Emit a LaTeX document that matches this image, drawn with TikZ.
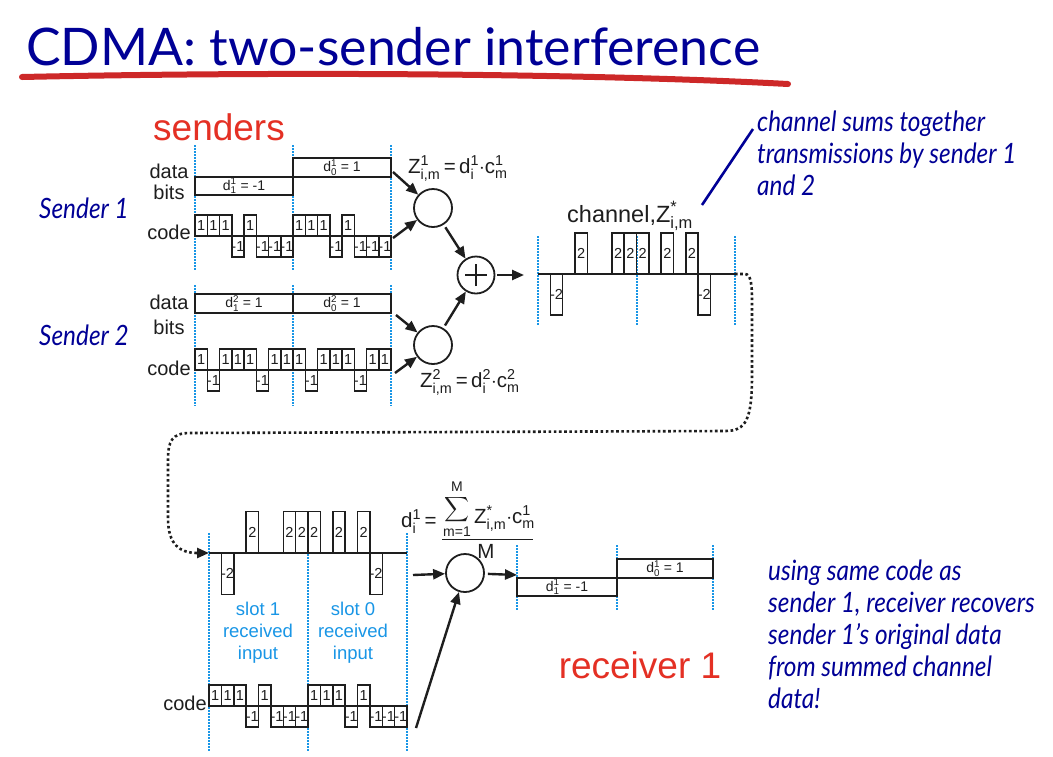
\documentclass[tikz,border=0pt]{standalone}
\usepackage{amsmath}
\usepackage{fontspec}
\setmainfont{Liberation Sans}
\newfontfamily\gillish[FakeStretch=0.87]{Lato}
\newfontfamily\titlefont{Lato}
\usetikzlibrary{arrows.meta}

\definecolor{navy}{RGB}{0,0,150}
\definecolor{brushred}{RGB}{205,40,40}
\definecolor{lblred}{RGB}{228,48,36}
\definecolor{slotblue}{RGB}{25,150,230}
\definecolor{ink}{RGB}{30,30,30}

\newcommand\fs[1]{\fontsize{#1}{#1}\selectfont}
% base letter with stacked super- and subscript in the text font
\newcommand\sx[3]{#1$^{\text{#2}}_{\text{#3}}$}

% chip waveform: x0, baseline y, chip width, unit height, values
\newcommand\wave[5]{%
  \foreach \v [count=\k from 0] in {#5}{%
    \ifnum\v=0\relax\else
      \draw[chip] ({#1+\k*#3},#2) rectangle ({#1+(\k+1)*#3},{#2-\v*#4});
      \node[chiplbl] at ({#1+(\k+0.5)*#3},{#2-0.5*\v*#4}) {\v};
    \fi}}

\begin{document}
\begin{tikzpicture}[x=1pt,y=-1pt,
  chip/.style={draw=ink, line width=1.5pt},
  chiplbl/.style={font=\fs{14.5}, inner sep=0, text=ink},
  bitlbl/.style={font=\fs{14}, inner sep=0, text=ink},
  axislbl/.style={font=\fs{20}, inner sep=0, text=ink},
  slot/.style={draw=slotblue, line width=1.7pt, dash pattern=on 1.5pt off 1.5pt},
  slotlbl/.style={font=\fontsize{18.5}{22}\selectfont, text=slotblue, align=center, inner sep=0},
  formula/.style={font=\fs{20.5}, inner sep=0, text=ink},
  circ/.style={circle, draw=ink, line width=1.8pt, minimum size=38pt, inner sep=0},
  arr/.style={draw=ink, line width=2.4pt, -{Triangle[length=12pt,width=10pt]}},
  note/.style={font=\gillish\itshape\fs{28}, text=navy, inner sep=0, anchor=base west},
  redlbl/.style={font=\fs{37}, text=lblred, inner sep=0},
  dotpath/.style={draw=ink, line width=2.6pt, dash pattern=on 2.6pt off 2.6pt}
]
\fill[white] (0,0) rectangle (1053,756);
\useasboundingbox (0,0) rectangle (1053,756);

% title and brush underline
\node[anchor=base west, inner sep=0, text=navy, font=\titlefont\fs{51.8}] (title) at (26,65) {CDMA: two-sender interference};
\draw[brushred, line width=6pt, line cap=round] (22,77) .. controls (300,71) and (600,74) .. (788,84);

% labels
\node[redlbl] (senders) at (219,127) {senders};
\node[note, anchor=center] (snd1) at (84,208) {Sender 1};
\node[note, anchor=center] (snd2) at (84,335) {Sender 2};

% ---------------- sender 1
\foreach \x in {195,293,391} \draw[slot] (\x,145) -- (\x,270);
\node[axislbl] (s1data) at (169,171) {data};
\node[axislbl] (s1bits) at (169,192) {bits};
\node[axislbl] (s1code) at (169,232) {code};
\draw[chip] (195,177) rectangle (293,195);
\draw[chip] (293,158) rectangle (391,177);
\node[bitlbl] (s1b1) at (244,186) {\sx{d}{1}{1} = -1};
\node[bitlbl] (s1b0) at (342,167.5) {\sx{d}{1}{0} = 1};
\wave{195}{236}{12.25}{21}{1,1,1,-1,1,-1,-1,-1,1,1,1,-1,1,-1,-1,-1}

% ---------------- sender 2
\foreach \x in {195,293,391} \draw[slot] (\x,285) -- (\x,406);
\node[axislbl] (s2data) at (169,302) {data};
\node[axislbl] (s2bits) at (169,327) {bits};
\node[axislbl] (s2code) at (169,368) {code};
\draw[chip] (195,294) rectangle (293,313);
\draw[chip] (293,294) rectangle (391,313);
\node[bitlbl] (s2b1) at (244,303.5) {\sx{d}{2}{1} = 1};
\node[bitlbl] (s2b0) at (342,303.5) {\sx{d}{2}{0} = 1};
\wave{195}{370}{12.25}{21}{1,-1,1,1,1,-1,1,1,1,-1,1,1,1,-1,1,1}

% ---------------- multipliers and adder
\node[circ] (C1) at (433,208) {};
\node[circ] (C2) at (433,345) {};
\node[circ, minimum size=37pt] (P) at (476,275) {};
\draw[ink, line width=2.6pt] ([xshift=-11pt]P.center) -- ([xshift=11pt]P.center)
                            ([yshift=-11pt]P.center) -- ([yshift=11pt]P.center);
\node[formula, anchor=base west] (z1) at (408,173) {\sx{Z}{1}{i,m}\,=\,\sx{d}{1}{i}$\cdot$\sx{c}{1}{m}};
\node[formula, anchor=base west] (z2) at (420,387) {\sx{Z}{2}{i,m}\,=\,\sx{d}{2}{i}$\cdot$\sx{c}{2}{m}};

\coordinate (s1d) at (393,172);
\coordinate (s1c) at (393,238);
\coordinate (s2d) at (396,315);
\coordinate (s2c) at (395,373);
\coordinate (chin) at (524,275);
\draw[arr] (s1d) -- (C1);
\draw[arr] (s1c) -- (C1);
\draw[arr] (s2d) -- (C2);
\draw[arr] (s2c) -- (C2);
\draw[arr, shorten <=3pt] (C1) -- (P);
\draw[arr, shorten <=3pt] (C2) -- (P);
\draw[arr, shorten <=2pt] (P) -- (chin);

% ---------------- channel
\foreach \x in {538,637,735} \draw[slot] (\x,236) -- (\x,326);
\draw[chip] (538,274) -- (735,274);
\begin{scope}[chiplbl/.append style={font=\fs{14.5}}]
\wave{538}{274}{12.3125}{20.5}{0,-2,0,2,0,0,2,2,2,0,2,0,2,-2,0,0}
\end{scope}
\node[anchor=base west, inner sep=0, font=\fs{23.5}, text=ink] (chlbl) at (567,222) {channel,\sx{Z}{*}{i,m}};

% annotation on the channel
\node[note] (cn1) at (757,131) {channel sums together};
\node[note] (cn2) at (757,163) {transmissions by sender 1};
\node[note] (cn3) at (757,195) {and 2};
\coordinate (ptrA) at (702,205);
\coordinate (ptrB) at (753,129);
\draw[navy, line width=2.6pt] (ptrA) -- (ptrB);

% ---------------- channel to receiver
\coordinate (chend) at (735,274);
\coordinate (rxin) at (209,553);
\draw[dotpath, -{Triangle[length=12pt,width=10pt]}] (chend) -- (745,274)
   .. controls (751,274) and (752,285) .. (752,300) -- (752,375)
   .. controls (752,420) and (746,431) .. (725,431) -- (190,433)
   .. controls (172,433) and (168,441) .. (168,460) -- (168,518)
   .. controls (168,545) and (180,553) .. (rxin);

% ---------------- receiver
\foreach \x in {209,308,407} \draw[slot] (\x,533) -- (\x,752);
\draw[chip] (209,553) -- (407,553);
\wave{209}{553}{12.375}{20.75}{0,-2,0,2,0,0,2,2,2,0,2,0,2,-2,0,0}
\node[slotlbl] (sl1) at (258,633) {slot 1\\received\\input};
\node[slotlbl] (sl0) at (353,633) {slot 0\\received\\input};
\node[axislbl] (rcode) at (185,703) {code};
\wave{209}{706}{12.375}{21}{1,1,1,-1,1,-1,-1,-1,1,1,1,-1,1,-1,-1,-1}

\node[circ] (R) at (465,573) {};
\coordinate (rin) at (413,575);
\coordinate (rc) at (416,728);
\coordinate (outin) at (517,575);
\draw[arr] (rin) -- (R);
\draw[arr] (rc) -- (R);
\draw[arr, shorten <=3pt] (R) -- (outin);

% decoding formula
\node[formula, anchor=base west] (dlhs) at (401,527) {\sx{d}{1}{i}\,=};
\node[formula, font=\fs{18}] (sigma) at (457,510) {$\displaystyle\sum$};
\node[formula, font=\fs{14}] (supM) at (457,487) {M};
\node[formula, font=\fs{14}] (subm) at (457,532) {m=1};
\node[formula, anchor=base west] (dnum) at (474,523) {\sx{Z}{*}{i,m}$\cdot$\sx{c}{1}{m}};
\draw[ink, line width=1.5pt] (442,539.5) -- (533,539.5);
\node[formula] (dden) at (486,551) {M};

% recovered bits
\foreach \x in {517,617,713} \draw[slot] (\x,545) -- (\x,610);
\draw[chip] (517,578) rectangle (617,596);
\draw[chip] (617,559) rectangle (713,578);
\node[bitlbl] (ob1) at (567,587) {\sx{d}{1}{1} = -1};
\node[bitlbl] (ob0) at (665,568.5) {\sx{d}{1}{0} = 1};

\node[redlbl] (recv) at (640,665) {receiver 1};

\node[note] (rn1) at (768,580) {using same code as};
\node[note] (rn2) at (768,612) {sender 1, receiver recovers};
\node[note] (rn3) at (768,644) {sender 1’s original data};
\node[note] (rn4) at (768,676) {from summed channel};
\node[note] (rn5) at (768,708) {data!};
\end{tikzpicture}
\end{document}
